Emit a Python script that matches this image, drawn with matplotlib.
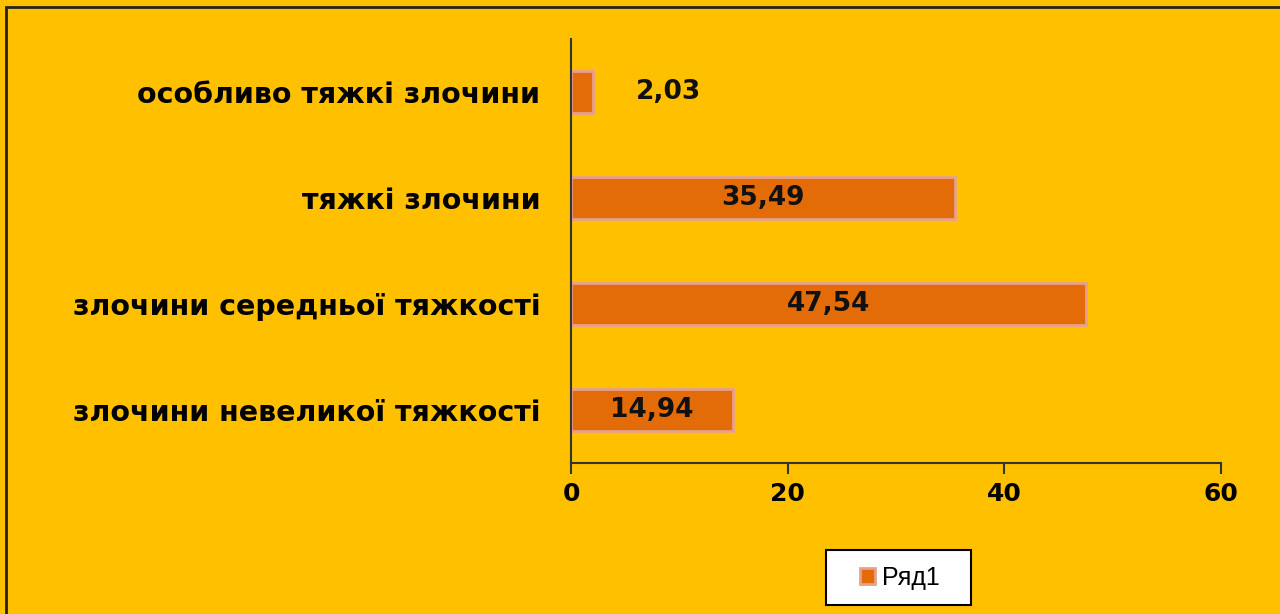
import matplotlib
matplotlib.use("Agg")
import matplotlib.pyplot as plt
from matplotlib.patches import Rectangle

categories = ["злочини невеликої тяжкості", "злочини середньої тяжкості",
              "тяжкі злочини", "особливо тяжкі злочини"]
values = [14.94, 47.54, 35.49, 2.03]
labels = ["14,94", "47,54", "35,49", "2,03"]
series_name = "Ряд1"
xticks = [0, 20, 40, 60]

plt.rcParams['font.family'] = ['DejaVu Sans']
bg = "#FFC000"
bar_color = "#E36C09"
edge_color = "#E8A08A"

fig = plt.figure(figsize=(12.8, 6.14), dpi=100, facecolor=bg)
W, H = 1280, 614
ax = fig.add_axes([571 / W, 1 - 463 / H, (1221 - 571) / W, (463 - 39) / H])
ax.set_facecolor(bg)

y = list(range(len(categories)))
bars = ax.barh(y, values, height=0.4, color=bar_color, edgecolor=edge_color,
               linewidth=2, label=series_name)
ax.set_xlim(0, 60)
ax.set_ylim(-0.5, 3.5)
ax.set_xticks(xticks)
ax.set_xticklabels([str(t) for t in xticks], fontsize=18, fontweight='bold')
ax.set_yticks(y)
ax.set_yticklabels(categories, fontsize=20.5, fontweight='bold')
ax.tick_params(axis='y', length=0, pad=22)
ax.tick_params(axis='x', direction='out', length=8, width=1.5, color='#333333', pad=6)
for s in ['top', 'right']:
    ax.spines[s].set_visible(False)
for s in ['left', 'bottom']:
    ax.spines[s].set_color('#333333')
    ax.spines[s].set_linewidth(1.5)

for yi, v, lab in zip(y, values, labels):
    if v < 5:
        ax.text(v + 7, yi, lab, ha='center', va='center', fontsize=19, fontweight='bold', color='#111111')
    else:
        ax.text(v / 2, yi, lab, ha='center', va='center', fontsize=19, fontweight='bold', color='#111111')

# legend frame drawn as a figure rectangle, legend content frameless inside
fig.patches.append(Rectangle((826 / W, 1 - 605 / H), 145 / W, 55 / H, transform=fig.transFigure,
                             facecolor='white', edgecolor='black', linewidth=1.5, zorder=5))
leg = fig.legend(handles=[bars], labels=[series_name], loc='center',
                 bbox_to_anchor=(900 / W, 1 - 578 / H),
                 prop={'family': 'Liberation Sans', 'size': 18},
                 frameon=False, handlelength=0.6, handleheight=0.6,
                 borderpad=0, handletextpad=0.3, borderaxespad=0)
leg.set_zorder(6)

fig.patches.append(Rectangle((6 / W, -0.05), 1.1, 1 - 7 / H + 0.05, transform=fig.transFigure,
                             fill=False, edgecolor='#222222', linewidth=2))

fig.savefig("out.png", dpi=100, facecolor=bg)
